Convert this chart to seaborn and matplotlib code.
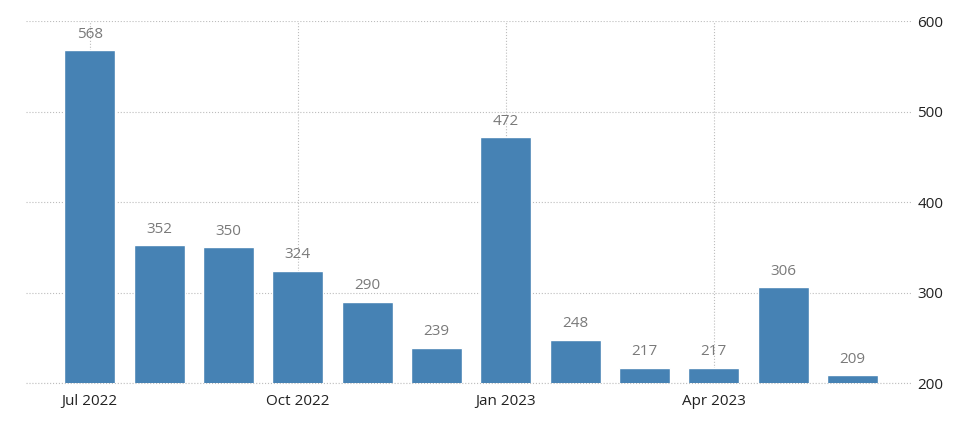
import seaborn as sns
import pandas as pd
import numpy as np
import matplotlib.pyplot as plt

# monthly values, Jul 2022 - Jun 2023
months = ['Jul 2022', 'Aug 2022', 'Sep 2022', 'Oct 2022', 'Nov 2022', 'Dec 2022',
          'Jan 2023', 'Feb 2023', 'Mar 2023', 'Apr 2023', 'May 2023', 'Jun 2023']
values = [568, 352, 350, 324, 290, 239, 472, 248, 217, 217, 306, 209]
tick_months = ['Jul 2022', 'Oct 2022', 'Jan 2023', 'Apr 2023']
y_ticks = [200, 300, 400, 500, 600]

sns.set_theme(style="white")
plt.rcParams['font.family'] = ['Open Sans', 'DejaVu Sans']

data = pd.DataFrame({"month": months, "value": values})

fig = plt.figure(figsize=(9.73, 4.22), dpi=100)
ax = fig.add_axes([0.0267, 0.0924, 0.9106, 0.8578])
sns.barplot(data=data, x="month", y="value", order=months, color="#4682b4",
            saturation=1, width=0.736, ax=ax, zorder=3)

# value labels above bars
for i, v in enumerate(values):
    ax.annotate(str(v), (i, v), xytext=(0, 6), textcoords='offset points',
                ha='center', va='bottom', fontsize=11, color='#7a7a7a', zorder=4)

ax.set_ylim(200, 600)
ax.set_xlim(-0.92, 11.86)
ax.set_yticks(y_ticks)
ax.yaxis.tick_right()
ax.set_xticks([months.index(m) for m in tick_months])
ax.set_xticklabels(tick_months)
ax.tick_params(axis='both', length=0, labelsize=11, colors='#222222')
ax.tick_params(axis='y', pad=4)
ax.tick_params(axis='x', pad=8)
ax.grid(True, linestyle=':', color='#bdbdbd', linewidth=0.8, zorder=0)
ax.axhline(200, linestyle=':', color='#bdbdbd', linewidth=0.8, zorder=1, clip_on=False)
for s in ax.spines.values():
    s.set_visible(False)
ax.set_xlabel('')
ax.set_ylabel('')

fig.savefig('out.png', dpi=100)
